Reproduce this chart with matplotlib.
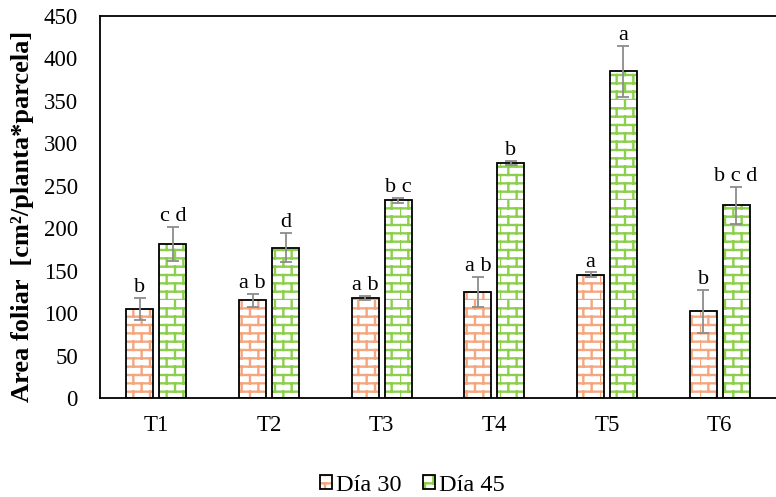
"""Area foliar por tratamiento, día 30 vs día 45 (barras tipo ladrillo)."""

import warnings

import matplotlib
matplotlib.use("Agg")
import matplotlib.pyplot as plt
import numpy as np
from matplotlib import hatch as mhatch
from matplotlib.legend_handler import HandlerTuple
from matplotlib.patches import Patch
from matplotlib.path import Path

warnings.filterwarnings("ignore", message=".*hatch must consist.*")

treatments = ["T1", "T2", "T3", "T4", "T5", "T6"]
dia30 = [105, 115, 118, 125, 145, 102]
dia30_err = [13, 8, 2, 18, 3, 25]
dia30_letters = ["b", "a b", "a b", "a b", "a", "b"]
dia45 = [182, 177, 233, 277, 385, 227]
dia45_err = [20, 17, 3, 2, 30, 22]
dia45_letters = ["c d", "d", "b c", "b", "a", "b c d"]
yticks = [0, 50, 100, 150, 200, 250, 300, 350, 400, 450]

ORANGE = "#F4A77F"
GREEN = "#8CCF4D"


class Bricks(mhatch.HatchPatternBase):
    """Excel-like brick pattern, char 'k'. 12 rows x 6 bricks per hatch cell."""

    def __init__(self, hatch, density):
        self.rows = 12 if "k" in hatch else 0
        self.cols = 6
        self.num_vertices = self.rows * 2 + self.rows * self.cols * 2

    def set_vertices_and_codes(self, vertices, codes):
        n, m = self.rows, self.cols
        i = 0
        for r in range(n):
            y0, y1 = r / n, (r + 1) / n
            vertices[i] = (0, y0); vertices[i + 1] = (1, y0)
            i += 2
            shift = 0.5 * (r % 2)
            for c in range(m):
                x = (c + shift) / m
                vertices[i] = (x, y0); vertices[i + 1] = (x, y1)
                i += 2
        codes[0::2] = Path.MOVETO
        codes[1::2] = Path.LINETO


mhatch._hatch_types.append(Bricks)

plt.rcParams["font.family"] = ["Liberation Serif", "DejaVu Serif"]
plt.rcParams["hatch.linewidth"] = 1.7

fig = plt.figure(figsize=(7.76, 4.97), dpi=100)
ax = fig.add_axes([0.129, 0.199, 0.871, 0.769])

x = np.arange(len(treatments))
w = 0.24
off = 0.146

for xs, vals, errs, letters, col in [
    (x - off, dia30, dia30_err, dia30_letters, ORANGE),
    (x + off, dia45, dia45_err, dia45_letters, GREEN),
]:
    ax.bar(xs, vals, w, color="white", edgecolor=col, hatch="k", lw=0, zorder=2)
    ax.bar(xs, vals, w, color="none", edgecolor="black", lw=1.3, zorder=3)
    _, caps, bars = ax.errorbar(xs, vals, yerr=errs, fmt="none", ecolor="#8c8c8c",
                                elinewidth=1.3, capsize=4.3, capthick=1.3, zorder=4)
    for c in caps:
        c.set_color("#595959")
    for xi, v, e, t in zip(xs, vals, errs, letters):
        ax.text(xi, v + e + 1, t, ha="center", va="bottom", fontsize=16, zorder=5)

ax.set_xlim(-0.5, len(treatments) - 0.5)
ax.set_ylim(0, 450)
ax.set_yticks(yticks)
ax.set_xticks(x)
ax.set_xticklabels(treatments)
ax.tick_params(axis="both", length=0, labelsize=16.5)
ax.tick_params(axis="y", pad=16)
ax.tick_params(axis="x", pad=12)
ax.spines["right"].set_visible(False)
for s in ["left", "top", "bottom"]:
    ax.spines[s].set_linewidth(1.3)
ax.set_ylabel("Area foliar  [cm²/planta*parcela]", fontsize=19, fontweight="bold")
ax.yaxis.set_label_coords(-0.098, 0.475)

handles = []
for col in [ORANGE, GREEN]:
    handles.append((Patch(facecolor="white", edgecolor=col, hatch="k", lw=0),
                    Patch(facecolor="none", edgecolor="black", lw=1.3)))
fig.legend(handles, ["Día 30", "Día 45"], loc="center", bbox_to_anchor=(0.531, 0.024),
           ncol=2, frameon=False, fontsize=17.5, handlelength=0.5, handleheight=0.5,
           handletextpad=0.17, columnspacing=0.87, borderpad=0.1,
           handler_map={tuple: HandlerTuple(ndivide=1)})

fig.savefig("out.png", dpi=100)
